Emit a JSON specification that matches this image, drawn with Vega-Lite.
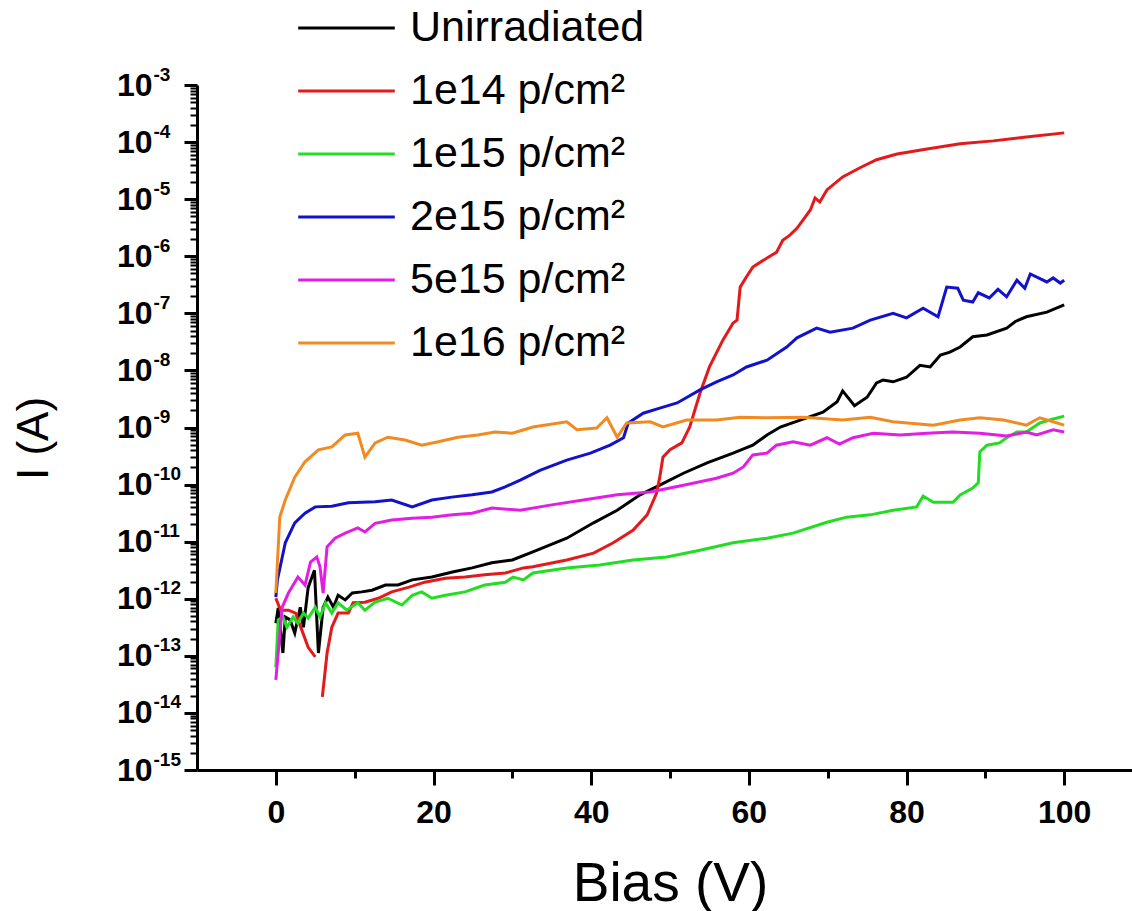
{
"$schema": "https://vega.github.io/schema/vega-lite/v6.json",
"width": 935, "height": 685,
"autosize": {"type": "none"},
"padding": {"left": 197, "top": 85, "right": 0, "bottom": 141},
"background": "white",
"config": {
  "view": {"stroke": null},
  "font": "Liberation Sans",
  "axis": {"labelColor": "black", "tickColor": "black", "domainColor": "black", "titleColor": "black", "grid": false, "labelFlush": false, "labelOverlap": false, "labelFont": "Liberation Sans", "titleFont": "Liberation Sans"}
},
"data": {"values": [
{"sample":"Unirradiated","bias":0,"current":3.72e-13},
{"sample":"Unirradiated","bias":0.3,"current":6.92e-13},
{"sample":"Unirradiated","bias":0.9,"current":1.12e-13},
{"sample":"Unirradiated","bias":1.2,"current":4.79e-13},
{"sample":"Unirradiated","bias":1.8,"current":4.27e-13},
{"sample":"Unirradiated","bias":2.4,"current":2.51e-13},
{"sample":"Unirradiated","bias":3.1,"current":7.08e-13},
{"sample":"Unirradiated","bias":3.5,"current":3.16e-13},
{"sample":"Unirradiated","bias":4.1,"current":1.58e-12},
{"sample":"Unirradiated","bias":4.9,"current":3.16e-12},
{"sample":"Unirradiated","bias":5.4,"current":1.12e-13},
{"sample":"Unirradiated","bias":6,"current":7.08e-13},
{"sample":"Unirradiated","bias":6.6,"current":1.07e-12},
{"sample":"Unirradiated","bias":7.3,"current":7.08e-13},
{"sample":"Unirradiated","bias":7.9,"current":1.15e-12},
{"sample":"Unirradiated","bias":8.8,"current":9.55e-13},
{"sample":"Unirradiated","bias":9.7,"current":1.26e-12},
{"sample":"Unirradiated","bias":10.9,"current":1.32e-12},
{"sample":"Unirradiated","bias":12.2,"current":1.41e-12},
{"sample":"Unirradiated","bias":13.9,"current":1.74e-12},
{"sample":"Unirradiated","bias":15.5,"current":1.74e-12},
{"sample":"Unirradiated","bias":17.3,"current":2.14e-12},
{"sample":"Unirradiated","bias":19.8,"current":2.4e-12},
{"sample":"Unirradiated","bias":22.4,"current":2.95e-12},
{"sample":"Unirradiated","bias":24.9,"current":3.47e-12},
{"sample":"Unirradiated","bias":27.4,"current":4.27e-12},
{"sample":"Unirradiated","bias":30,"current":4.79e-12},
{"sample":"Unirradiated","bias":32.6,"current":6.61e-12},
{"sample":"Unirradiated","bias":36.9,"current":1.15e-11},
{"sample":"Unirradiated","bias":40.3,"current":2.14e-11},
{"sample":"Unirradiated","bias":43.3,"current":3.55e-11},
{"sample":"Unirradiated","bias":46.2,"current":6.61e-11},
{"sample":"Unirradiated","bias":48.7,"current":9.77e-11},
{"sample":"Unirradiated","bias":51.7,"current":1.58e-10},
{"sample":"Unirradiated","bias":54.7,"current":2.4e-10},
{"sample":"Unirradiated","bias":58,"current":3.55e-10},
{"sample":"Unirradiated","bias":60.5,"current":4.9e-10},
{"sample":"Unirradiated","bias":62.3,"current":7.41e-10},
{"sample":"Unirradiated","bias":64,"current":1.02e-9},
{"sample":"Unirradiated","bias":66.5,"current":1.35e-9},
{"sample":"Unirradiated","bias":69.4,"current":1.86e-9},
{"sample":"Unirradiated","bias":71.2,"current":2.82e-9},
{"sample":"Unirradiated","bias":71.9,"current":4.37e-9},
{"sample":"Unirradiated","bias":73.4,"current":2.4e-9},
{"sample":"Unirradiated","bias":75,"current":3.39e-9},
{"sample":"Unirradiated","bias":76.2,"current":6.03e-9},
{"sample":"Unirradiated","bias":77,"current":6.76e-9},
{"sample":"Unirradiated","bias":78.3,"current":6.31e-9},
{"sample":"Unirradiated","bias":80,"current":7.59e-9},
{"sample":"Unirradiated","bias":81.7,"current":1.23e-8},
{"sample":"Unirradiated","bias":83,"current":1.15e-8},
{"sample":"Unirradiated","bias":84.3,"current":1.86e-8},
{"sample":"Unirradiated","bias":85.5,"current":2.09e-8},
{"sample":"Unirradiated","bias":86.8,"current":2.57e-8},
{"sample":"Unirradiated","bias":88.4,"current":3.89e-8},
{"sample":"Unirradiated","bias":90.2,"current":4.17e-8},
{"sample":"Unirradiated","bias":92.7,"current":5.5e-8},
{"sample":"Unirradiated","bias":93.8,"current":7.2e-8},
{"sample":"Unirradiated","bias":95.2,"current":8.71e-8},
{"sample":"Unirradiated","bias":97.8,"current":1.05e-7},
{"sample":"Unirradiated","bias":100,"current":1.41e-7},
{"sample":"1e14 p/cm²","bias":0,"current":1.02e-12},
{"sample":"1e14 p/cm²","bias":0.6,"current":6.31e-13},
{"sample":"1e14 p/cm²","bias":1.6,"current":6.31e-13},
{"sample":"1e14 p/cm²","bias":2.5,"current":5.62e-13},
{"sample":"1e14 p/cm²","bias":3.3,"current":2.82e-13},
{"sample":"1e14 p/cm²","bias":4.1,"current":1.41e-13},
{"sample":"1e14 p/cm²","bias":5,"current":9.55e-14},
{"sample":"1e14 p/cm²","bias":5.5,"current":null},
{"sample":"1e14 p/cm²","bias":5.9,"current":1.91e-14},
{"sample":"1e14 p/cm²","bias":6.5,"current":1.12e-13},
{"sample":"1e14 p/cm²","bias":7.1,"current":3.16e-13},
{"sample":"1e14 p/cm²","bias":7.9,"current":5.62e-13},
{"sample":"1e14 p/cm²","bias":9.2,"current":5.62e-13},
{"sample":"1e14 p/cm²","bias":9.8,"current":8.51e-13},
{"sample":"1e14 p/cm²","bias":11.3,"current":8.71e-13},
{"sample":"1e14 p/cm²","bias":13,"current":1.02e-12},
{"sample":"1e14 p/cm²","bias":14.7,"current":1.32e-12},
{"sample":"1e14 p/cm²","bias":16.8,"current":1.58e-12},
{"sample":"1e14 p/cm²","bias":18.9,"current":1.95e-12},
{"sample":"1e14 p/cm²","bias":21.5,"current":2.29e-12},
{"sample":"1e14 p/cm²","bias":24,"current":2.4e-12},
{"sample":"1e14 p/cm²","bias":26.5,"current":2.63e-12},
{"sample":"1e14 p/cm²","bias":29.1,"current":2.82e-12},
{"sample":"1e14 p/cm²","bias":31.4,"current":3.47e-12},
{"sample":"1e14 p/cm²","bias":32.6,"current":3.63e-12},
{"sample":"1e14 p/cm²","bias":36.9,"current":4.79e-12},
{"sample":"1e14 p/cm²","bias":40.3,"current":6.31e-12},
{"sample":"1e14 p/cm²","bias":42.8,"current":9.55e-12},
{"sample":"1e14 p/cm²","bias":45.3,"current":1.58e-11},
{"sample":"1e14 p/cm²","bias":47.1,"current":2.95e-11},
{"sample":"1e14 p/cm²","bias":48.3,"current":7.08e-11},
{"sample":"1e14 p/cm²","bias":48.7,"current":1.35e-10},
{"sample":"1e14 p/cm²","bias":49.1,"current":3.02e-10},
{"sample":"1e14 p/cm²","bias":50,"current":4.07e-10},
{"sample":"1e14 p/cm²","bias":51.5,"current":5.37e-10},
{"sample":"1e14 p/cm²","bias":52.5,"current":1.02e-9},
{"sample":"1e14 p/cm²","bias":53.8,"current":3.98e-9},
{"sample":"1e14 p/cm²","bias":55,"current":1.15e-8},
{"sample":"1e14 p/cm²","bias":56.7,"current":3.39e-8},
{"sample":"1e14 p/cm²","bias":58,"current":6.76e-8},
{"sample":"1e14 p/cm²","bias":58.5,"current":7.59e-8},
{"sample":"1e14 p/cm²","bias":58.9,"current":2.88e-7},
{"sample":"1e14 p/cm²","bias":59.7,"current":4.37e-7},
{"sample":"1e14 p/cm²","bias":60.5,"current":6.46e-7},
{"sample":"1e14 p/cm²","bias":62.3,"current":9.33e-7},
{"sample":"1e14 p/cm²","bias":63.5,"current":1.17e-6},
{"sample":"1e14 p/cm²","bias":64.3,"current":1.91e-6},
{"sample":"1e14 p/cm²","bias":65.2,"current":2.34e-6},
{"sample":"1e14 p/cm²","bias":66.1,"current":3.09e-6},
{"sample":"1e14 p/cm²","bias":67.8,"current":6.46e-6},
{"sample":"1e14 p/cm²","bias":68.4,"current":1.05e-5},
{"sample":"1e14 p/cm²","bias":69,"current":8.91e-6},
{"sample":"1e14 p/cm²","bias":69.9,"current":1.45e-5},
{"sample":"1e14 p/cm²","bias":71.9,"current":2.45e-5},
{"sample":"1e14 p/cm²","bias":74.1,"current":3.55e-5},
{"sample":"1e14 p/cm²","bias":76.2,"current":4.9e-5},
{"sample":"1e14 p/cm²","bias":78.8,"current":6.17e-5},
{"sample":"1e14 p/cm²","bias":82.6,"current":7.59e-5},
{"sample":"1e14 p/cm²","bias":86.8,"current":9.33e-5},
{"sample":"1e14 p/cm²","bias":91,"current":1.05e-4},
{"sample":"1e14 p/cm²","bias":95.2,"current":1.23e-4},
{"sample":"1e14 p/cm²","bias":100,"current":1.45e-4},
{"sample":"1e15 p/cm²","bias":0,"current":6.31e-14},
{"sample":"1e15 p/cm²","bias":0.3,"current":4.27e-13},
{"sample":"1e15 p/cm²","bias":0.9,"current":4.79e-13},
{"sample":"1e15 p/cm²","bias":1.4,"current":3.16e-13},
{"sample":"1e15 p/cm²","bias":2.2,"current":4.79e-13},
{"sample":"1e15 p/cm²","bias":2.8,"current":3.72e-13},
{"sample":"1e15 p/cm²","bias":3.5,"current":5.62e-13},
{"sample":"1e15 p/cm²","bias":4.1,"current":4.57e-13},
{"sample":"1e15 p/cm²","bias":5,"current":7.08e-13},
{"sample":"1e15 p/cm²","bias":5.6,"current":4.79e-13},
{"sample":"1e15 p/cm²","bias":6.3,"current":8.51e-13},
{"sample":"1e15 p/cm²","bias":7.1,"current":5.62e-13},
{"sample":"1e15 p/cm²","bias":7.9,"current":8.51e-13},
{"sample":"1e15 p/cm²","bias":9,"current":6.31e-13},
{"sample":"1e15 p/cm²","bias":10.4,"current":8.51e-13},
{"sample":"1e15 p/cm²","bias":11.3,"current":6.31e-13},
{"sample":"1e15 p/cm²","bias":12.6,"current":8.71e-13},
{"sample":"1e15 p/cm²","bias":14.2,"current":1.02e-12},
{"sample":"1e15 p/cm²","bias":16,"current":7.76e-13},
{"sample":"1e15 p/cm²","bias":17.3,"current":1.15e-12},
{"sample":"1e15 p/cm²","bias":18.5,"current":1.32e-12},
{"sample":"1e15 p/cm²","bias":19.8,"current":1.02e-12},
{"sample":"1e15 p/cm²","bias":21.5,"current":1.15e-12},
{"sample":"1e15 p/cm²","bias":24,"current":1.32e-12},
{"sample":"1e15 p/cm²","bias":26.5,"current":1.74e-12},
{"sample":"1e15 p/cm²","bias":29.1,"current":1.95e-12},
{"sample":"1e15 p/cm²","bias":30.1,"current":2.4e-12},
{"sample":"1e15 p/cm²","bias":31.4,"current":2.14e-12},
{"sample":"1e15 p/cm²","bias":32.6,"current":2.82e-12},
{"sample":"1e15 p/cm²","bias":36.9,"current":3.47e-12},
{"sample":"1e15 p/cm²","bias":41.1,"current":3.89e-12},
{"sample":"1e15 p/cm²","bias":45.3,"current":4.79e-12},
{"sample":"1e15 p/cm²","bias":49.6,"current":5.37e-12},
{"sample":"1e15 p/cm²","bias":53.8,"current":7.08e-12},
{"sample":"1e15 p/cm²","bias":58,"current":9.55e-12},
{"sample":"1e15 p/cm²","bias":62.3,"current":1.15e-11},
{"sample":"1e15 p/cm²","bias":65.6,"current":1.41e-11},
{"sample":"1e15 p/cm²","bias":69.9,"current":2.19e-11},
{"sample":"1e15 p/cm²","bias":72.4,"current":2.69e-11},
{"sample":"1e15 p/cm²","bias":75.4,"current":2.95e-11},
{"sample":"1e15 p/cm²","bias":78.3,"current":3.55e-11},
{"sample":"1e15 p/cm²","bias":81.3,"current":4.07e-11},
{"sample":"1e15 p/cm²","bias":82.1,"current":6.31e-11},
{"sample":"1e15 p/cm²","bias":83.4,"current":4.9e-11},
{"sample":"1e15 p/cm²","bias":85.9,"current":4.9e-11},
{"sample":"1e15 p/cm²","bias":86.8,"current":6.61e-11},
{"sample":"1e15 p/cm²","bias":88.4,"current":8.71e-11},
{"sample":"1e15 p/cm²","bias":89.1,"current":1.07e-10},
{"sample":"1e15 p/cm²","bias":89.3,"current":3.72e-10},
{"sample":"1e15 p/cm²","bias":90.2,"current":4.9e-10},
{"sample":"1e15 p/cm²","bias":91.8,"current":5.37e-10},
{"sample":"1e15 p/cm²","bias":92.7,"current":6.61e-10},
{"sample":"1e15 p/cm²","bias":94,"current":8.32e-10},
{"sample":"1e15 p/cm²","bias":95.2,"current":8.32e-10},
{"sample":"1e15 p/cm²","bias":96.9,"current":1.2e-9},
{"sample":"1e15 p/cm²","bias":98.6,"current":1.41e-9},
{"sample":"1e15 p/cm²","bias":100,"current":1.58e-9},
{"sample":"2e15 p/cm²","bias":0,"current":1.07e-12},
{"sample":"2e15 p/cm²","bias":0.2,"current":2.14e-12},
{"sample":"2e15 p/cm²","bias":1.2,"current":9.55e-12},
{"sample":"2e15 p/cm²","bias":2.4,"current":2.14e-11},
{"sample":"2e15 p/cm²","bias":3.7,"current":3.16e-11},
{"sample":"2e15 p/cm²","bias":5,"current":4.07e-11},
{"sample":"2e15 p/cm²","bias":7.1,"current":4.17e-11},
{"sample":"2e15 p/cm²","bias":9.2,"current":4.79e-11},
{"sample":"2e15 p/cm²","bias":12.6,"current":5.01e-11},
{"sample":"2e15 p/cm²","bias":14.7,"current":5.37e-11},
{"sample":"2e15 p/cm²","bias":17.3,"current":4.07e-11},
{"sample":"2e15 p/cm²","bias":19.8,"current":5.37e-11},
{"sample":"2e15 p/cm²","bias":22.3,"current":6.03e-11},
{"sample":"2e15 p/cm²","bias":24.9,"current":6.61e-11},
{"sample":"2e15 p/cm²","bias":27.4,"current":7.41e-11},
{"sample":"2e15 p/cm²","bias":29.1,"current":9.12e-11},
{"sample":"2e15 p/cm²","bias":31,"current":1.2e-10},
{"sample":"2e15 p/cm²","bias":33.5,"current":1.78e-10},
{"sample":"2e15 p/cm²","bias":36.9,"current":2.69e-10},
{"sample":"2e15 p/cm²","bias":39.9,"current":3.55e-10},
{"sample":"2e15 p/cm²","bias":42.4,"current":4.9e-10},
{"sample":"2e15 p/cm²","bias":44.1,"current":6.61e-10},
{"sample":"2e15 p/cm²","bias":44.7,"current":1.2e-9},
{"sample":"2e15 p/cm²","bias":46.6,"current":1.78e-9},
{"sample":"2e15 p/cm²","bias":48.7,"current":2.19e-9},
{"sample":"2e15 p/cm²","bias":50.9,"current":2.69e-9},
{"sample":"2e15 p/cm²","bias":53.8,"current":4.57e-9},
{"sample":"2e15 p/cm²","bias":55.9,"current":6.31e-9},
{"sample":"2e15 p/cm²","bias":58,"current":8.32e-9},
{"sample":"2e15 p/cm²","bias":59.7,"current":1.15e-8},
{"sample":"2e15 p/cm²","bias":62.3,"current":1.51e-8},
{"sample":"2e15 p/cm²","bias":64.8,"current":2.57e-8},
{"sample":"2e15 p/cm²","bias":66.1,"current":3.72e-8},
{"sample":"2e15 p/cm²","bias":68.6,"current":5.5e-8},
{"sample":"2e15 p/cm²","bias":70.3,"current":4.68e-8},
{"sample":"2e15 p/cm²","bias":73.2,"current":5.5e-8},
{"sample":"2e15 p/cm²","bias":75.4,"current":7.59e-8},
{"sample":"2e15 p/cm²","bias":78.3,"current":1.0e-7},
{"sample":"2e15 p/cm²","bias":80,"current":8.32e-8},
{"sample":"2e15 p/cm²","bias":82.1,"current":1.23e-7},
{"sample":"2e15 p/cm²","bias":84,"current":8.71e-8},
{"sample":"2e15 p/cm²","bias":85.1,"current":2.88e-7},
{"sample":"2e15 p/cm²","bias":86.5,"current":2.75e-7},
{"sample":"2e15 p/cm²","bias":87.2,"current":1.7e-7},
{"sample":"2e15 p/cm²","bias":88.4,"current":1.58e-7},
{"sample":"2e15 p/cm²","bias":89.1,"current":2.29e-7},
{"sample":"2e15 p/cm²","bias":90.5,"current":1.86e-7},
{"sample":"2e15 p/cm²","bias":91.6,"current":2.63e-7},
{"sample":"2e15 p/cm²","bias":92.7,"current":1.95e-7},
{"sample":"2e15 p/cm²","bias":94,"current":3.8e-7},
{"sample":"2e15 p/cm²","bias":95,"current":2.75e-7},
{"sample":"2e15 p/cm²","bias":95.7,"current":4.9e-7},
{"sample":"2e15 p/cm²","bias":97.8,"current":3.55e-7},
{"sample":"2e15 p/cm²","bias":98.6,"current":4.17e-7},
{"sample":"2e15 p/cm²","bias":99.5,"current":3.39e-7},
{"sample":"2e15 p/cm²","bias":100,"current":3.8e-7},
{"sample":"5e15 p/cm²","bias":0,"current":3.8e-14},
{"sample":"5e15 p/cm²","bias":0.3,"current":1.12e-13},
{"sample":"5e15 p/cm²","bias":0.8,"current":7.08e-13},
{"sample":"5e15 p/cm²","bias":1.6,"current":1.26e-12},
{"sample":"5e15 p/cm²","bias":2.8,"current":2.4e-12},
{"sample":"5e15 p/cm²","bias":3.7,"current":1.74e-12},
{"sample":"5e15 p/cm²","bias":4.4,"current":4.37e-12},
{"sample":"5e15 p/cm²","bias":5.2,"current":5.37e-12},
{"sample":"5e15 p/cm²","bias":5.6,"current":3.63e-12},
{"sample":"5e15 p/cm²","bias":6,"current":1.26e-12},
{"sample":"5e15 p/cm²","bias":6.5,"current":8.13e-12},
{"sample":"5e15 p/cm²","bias":7.5,"current":1.15e-11},
{"sample":"5e15 p/cm²","bias":8.8,"current":1.41e-11},
{"sample":"5e15 p/cm²","bias":10.4,"current":1.74e-11},
{"sample":"5e15 p/cm²","bias":11.3,"current":1.48e-11},
{"sample":"5e15 p/cm²","bias":12.6,"current":2.09e-11},
{"sample":"5e15 p/cm²","bias":14.7,"current":2.4e-11},
{"sample":"5e15 p/cm²","bias":17.3,"current":2.57e-11},
{"sample":"5e15 p/cm²","bias":19.8,"current":2.69e-11},
{"sample":"5e15 p/cm²","bias":22.4,"current":2.95e-11},
{"sample":"5e15 p/cm²","bias":24.9,"current":3.16e-11},
{"sample":"5e15 p/cm²","bias":27.4,"current":3.89e-11},
{"sample":"5e15 p/cm²","bias":31,"current":3.55e-11},
{"sample":"5e15 p/cm²","bias":34.8,"current":4.37e-11},
{"sample":"5e15 p/cm²","bias":39,"current":5.37e-11},
{"sample":"5e15 p/cm²","bias":43.3,"current":6.61e-11},
{"sample":"5e15 p/cm²","bias":47.5,"current":7.41e-11},
{"sample":"5e15 p/cm²","bias":51.7,"current":9.77e-11},
{"sample":"5e15 p/cm²","bias":55.9,"current":1.29e-10},
{"sample":"5e15 p/cm²","bias":58,"current":1.58e-10},
{"sample":"5e15 p/cm²","bias":59.3,"current":2.04e-10},
{"sample":"5e15 p/cm²","bias":60.5,"current":3.31e-10},
{"sample":"5e15 p/cm²","bias":62.3,"current":3.55e-10},
{"sample":"5e15 p/cm²","bias":63.5,"current":4.9e-10},
{"sample":"5e15 p/cm²","bias":65.6,"current":5.62e-10},
{"sample":"5e15 p/cm²","bias":67.8,"current":4.9e-10},
{"sample":"5e15 p/cm²","bias":69.9,"current":6.61e-10},
{"sample":"5e15 p/cm²","bias":71.5,"current":5.13e-10},
{"sample":"5e15 p/cm²","bias":73.2,"current":6.61e-10},
{"sample":"5e15 p/cm²","bias":75.8,"current":7.94e-10},
{"sample":"5e15 p/cm²","bias":79.2,"current":7.41e-10},
{"sample":"5e15 p/cm²","bias":82.6,"current":7.94e-10},
{"sample":"5e15 p/cm²","bias":85.9,"current":8.32e-10},
{"sample":"5e15 p/cm²","bias":89.3,"current":7.94e-10},
{"sample":"5e15 p/cm²","bias":92.7,"current":7.08e-10},
{"sample":"5e15 p/cm²","bias":95.2,"current":8.32e-10},
{"sample":"5e15 p/cm²","bias":96.5,"current":7.41e-10},
{"sample":"5e15 p/cm²","bias":98.6,"current":9.12e-10},
{"sample":"5e15 p/cm²","bias":100,"current":8.32e-10},
{"sample":"1e16 p/cm²","bias":0,"current":1.26e-12},
{"sample":"1e16 p/cm²","bias":0.5,"current":2.69e-11},
{"sample":"1e16 p/cm²","bias":1.2,"current":5.37e-11},
{"sample":"1e16 p/cm²","bias":2.4,"current":1.35e-10},
{"sample":"1e16 p/cm²","bias":3.7,"current":2.51e-10},
{"sample":"1e16 p/cm²","bias":5.4,"current":4.07e-10},
{"sample":"1e16 p/cm²","bias":7.1,"current":4.57e-10},
{"sample":"1e16 p/cm²","bias":8.8,"current":7.41e-10},
{"sample":"1e16 p/cm²","bias":10.4,"current":7.94e-10},
{"sample":"1e16 p/cm²","bias":11.3,"current":3.02e-10},
{"sample":"1e16 p/cm²","bias":12.6,"current":5.37e-10},
{"sample":"1e16 p/cm²","bias":14.2,"current":6.76e-10},
{"sample":"1e16 p/cm²","bias":16.4,"current":6.03e-10},
{"sample":"1e16 p/cm²","bias":18.5,"current":4.9e-10},
{"sample":"1e16 p/cm²","bias":20.6,"current":5.62e-10},
{"sample":"1e16 p/cm²","bias":23.1,"current":6.76e-10},
{"sample":"1e16 p/cm²","bias":25.6,"current":7.41e-10},
{"sample":"1e16 p/cm²","bias":27.8,"current":8.32e-10},
{"sample":"1e16 p/cm²","bias":30,"current":7.94e-10},
{"sample":"1e16 p/cm²","bias":32.6,"current":1.02e-9},
{"sample":"1e16 p/cm²","bias":36.9,"current":1.26e-9},
{"sample":"1e16 p/cm²","bias":38.2,"current":9.12e-10},
{"sample":"1e16 p/cm²","bias":40.7,"current":9.77e-10},
{"sample":"1e16 p/cm²","bias":42,"current":1.48e-9},
{"sample":"1e16 p/cm²","bias":43.3,"current":6.76e-10},
{"sample":"1e16 p/cm²","bias":44.5,"current":1.2e-9},
{"sample":"1e16 p/cm²","bias":47.5,"current":1.26e-9},
{"sample":"1e16 p/cm²","bias":49.1,"current":1.02e-9},
{"sample":"1e16 p/cm²","bias":52.1,"current":1.35e-9},
{"sample":"1e16 p/cm²","bias":55.9,"current":1.35e-9},
{"sample":"1e16 p/cm²","bias":58.9,"current":1.51e-9},
{"sample":"1e16 p/cm²","bias":62.3,"current":1.48e-9},
{"sample":"1e16 p/cm²","bias":66.9,"current":1.51e-9},
{"sample":"1e16 p/cm²","bias":71.9,"current":1.35e-9},
{"sample":"1e16 p/cm²","bias":75.4,"current":1.51e-9},
{"sample":"1e16 p/cm²","bias":78.3,"current":1.26e-9},
{"sample":"1e16 p/cm²","bias":83.4,"current":1.1e-9},
{"sample":"1e16 p/cm²","bias":86.8,"current":1.35e-9},
{"sample":"1e16 p/cm²","bias":89.3,"current":1.48e-9},
{"sample":"1e16 p/cm²","bias":92.3,"current":1.35e-9},
{"sample":"1e16 p/cm²","bias":95.2,"current":1.1e-9},
{"sample":"1e16 p/cm²","bias":96.9,"current":1.48e-9},
{"sample":"1e16 p/cm²","bias":98.6,"current":1.26e-9},
{"sample":"1e16 p/cm²","bias":100,"current":1.1e-9}
]},
"layer": [
{
  "mark": {"type": "line", "strokeWidth": 3, "invalid": "break-paths-filter-domains", "clip": true},
  "encoding": {
    "x": {"field": "bias", "type": "quantitative",
      "scale": {"domain": [-10, 108.6], "nice": false, "zero": false},
      "axis": {"orient": "bottom", "values": [0, 20, 40, 60, 80, 100], "format": "d", "labelFontSize": 32, "labelFontWeight": "bold", "labelPadding": 12, "tickSize": 15, "tickWidth": 3, "domainWidth": 3, "title": "Bias (V)", "titleFontSize": 55, "titleFontWeight": "normal", "titleX": 473, "titleY": 130, "titleBaseline": "alphabetic", "titleAlign": "center"}},
    "y": {"field": "current", "type": "quantitative",
      "scale": {"type": "log", "domain": [1e-15, 1e-3], "nice": false},
      "axis": {"orient": "left", "values": [1e-15, 1e-14, 1e-13, 1e-12, 1e-11, 1e-10, 1e-9, 1e-8, 1e-7, 1e-6, 1e-5, 1e-4, 1e-3], "labelExpr": "'10'", "labelFontSize": 32, "labelFontWeight": "bold", "labelPadding": 32, "tickSize": 13, "tickWidth": 3, "domainWidth": 3, "title": "I (A)", "titleFontSize": 44, "titleFontWeight": "normal", "titleAngle": -90, "titleX": -150, "titleY": 353, "titleBaseline": "alphabetic", "titleAlign": "center"}},
    "color": {"field": "sample", "type": "nominal",
      "scale": {"domain": ["Unirradiated", "1e14 p/cm²", "1e15 p/cm²", "2e15 p/cm²", "5e15 p/cm²", "1e16 p/cm²"], "range": ["#000000", "#e3191c", "#22dd22", "#1212cc", "#e31ee3", "#f28a22"]},
      "legend": {"orient": "none", "legendX": 127, "legendY": -79.5, "title": null, "symbolType": "M-2.3,0H2.3", "symbolSize": 1764, "symbolStrokeWidth": 3, "labelFontSize": 43, "labelOffset": 41, "rowPadding": 18, "padding": 0, "labelColor": "black", "labelLimit": 0, "labelFont": "Liberation Sans"}}
  }
},
{
  "transform": [{"filter": "datum.sample == 'Unirradiated' && datum.bias == 100"}],
  "mark": {"type": "point", "opacity": 0},
  "encoding": {
    "x": {"field": "bias", "type": "quantitative",
      "axis": {"orient": "bottom", "values": [10, 30, 50, 70, 90], "labels": false, "domain": false, "tickSize": 8, "tickWidth": 3, "title": null}},
    "y": {"field": "current", "type": "quantitative",
      "axis": {"orient": "left", "values": [2e-15,3e-15,4e-15,5e-15,6e-15,7e-15,8e-15,9e-15,2e-14,3e-14,4e-14,5e-14,6e-14,7e-14,8e-14,9e-14,2e-13,3e-13,4e-13,5e-13,6e-13,7e-13,8e-13,9e-13,2e-12,3e-12,4e-12,5e-12,6e-12,7e-12,8e-12,9e-12,2e-11,3e-11,4e-11,5e-11,6e-11,7e-11,8e-11,9e-11,2e-10,3e-10,4e-10,5e-10,6e-10,7e-10,8e-10,9e-10,2e-9,3e-9,4e-9,5e-9,6e-9,7e-9,8e-9,9e-9,2e-8,3e-8,4e-8,5e-8,6e-8,7e-8,8e-8,9e-8,2e-7,3e-7,4e-7,5e-7,6e-7,7e-7,8e-7,9e-7,2e-6,3e-6,4e-6,5e-6,6e-6,7e-6,8e-6,9e-6,2e-5,3e-5,4e-5,5e-5,6e-5,7e-5,8e-5,9e-5,2e-4,3e-4,4e-4,5e-4,6e-4,7e-4,8e-4,9e-4], "labels": false, "domain": false, "tickSize": 7, "tickWidth": 2, "title": null}}
  }
},
{
  "transform": [{"filter": "datum.sample == 'Unirradiated' && datum.bias == 100"}],
  "mark": {"type": "point", "opacity": 0},
  "encoding": {
    "x": {"field": "bias", "type": "quantitative", "axis": null},
    "y": {"field": "current", "type": "quantitative",
      "axis": {"orient": "left", "values": [1e-15, 1e-14, 1e-13, 1e-12, 1e-11, 1e-10, 1e-9, 1e-8, 1e-7, 1e-6, 1e-5, 1e-4, 1e-3], "labelExpr": "'' + round(log(datum.value) / LN10)", "ticks": false, "tickSize": 0, "domain": false, "labelPadding": 44, "labelAlign": "left", "labelFontSize": 19, "labelFontWeight": "bold", "labelOffset": -11, "title": null}}
  }
}
],
"resolve": {"axis": {"x": "independent", "y": "independent"}}
}
